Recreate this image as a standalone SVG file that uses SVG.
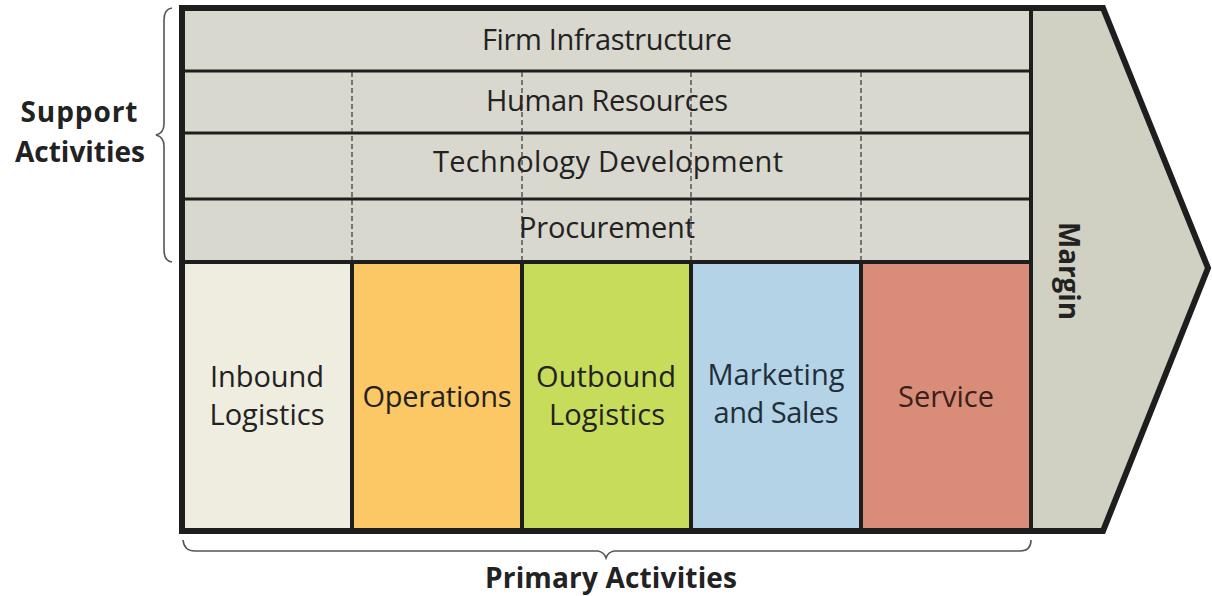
<svg xmlns="http://www.w3.org/2000/svg" width="1212" height="596" viewBox="0 0 1212 596">
<style>
.lbl{font-family:"Open Sans","Liberation Sans",sans-serif;font-size:29px;fill:#222;text-anchor:middle}
.bold{font-family:"Open Sans","Liberation Sans",sans-serif;font-size:28px;font-weight:bold;fill:#222;text-anchor:middle}
.row{fill:#d9d8cf}
.hl{stroke:#1e1e1e;stroke-width:3;fill:none}
.vl{stroke:#1e1e1e;stroke-width:4;fill:none}
.dash{stroke:#333;stroke-width:1.2;stroke-dasharray:5 3;fill:none}
.brace{stroke:#555;stroke-width:1.6;fill:none}
</style>
<rect width="1212" height="596" fill="#ffffff"/>
<g id="margin">
<polygon points="182,8 1103,8 1208,268 1103,531 182,531" fill="#d0d0c3"/>
<text class="bold" transform="translate(1059,271) rotate(90)" textLength="98" lengthAdjust="spacingAndGlyphs">Margin</text>
</g>
<g id="firm-infrastructure">
<rect class="row" x="182" y="8" width="849" height="63"/>
<text class="lbl" x="607" y="50" textLength="250">Firm Infrastructure</text>
</g>
<g id="human-resources">
<rect class="row" x="182" y="71" width="849" height="62"/>
<text class="lbl" x="607" y="111" textLength="242">Human Resources</text>
</g>
<g id="technology-development">
<rect class="row" x="182" y="133" width="849" height="66"/>
<text class="lbl" x="608" y="172" textLength="350">Technology Development</text>
</g>
<g id="procurement">
<rect class="row" x="182" y="199" width="849" height="63"/>
<text class="lbl" x="607" y="238" textLength="176">Procurement</text>
</g>
<g id="inbound-logistics">
<rect x="182" y="262" width="170" height="269" fill="#efece0"/>
<text class="lbl" x="267" y="387" textLength="114">Inbound</text>
<text class="lbl" x="267" y="425" textLength="115">Logistics</text>
</g>
<g id="operations">
<rect x="352" y="262" width="170" height="269" fill="#fcc865"/>
<text class="lbl" x="437" y="407" textLength="149">Operations</text>
</g>
<g id="outbound-logistics">
<rect x="522" y="262" width="169" height="269" fill="#c8dc5c"/>
<text class="lbl" x="606" y="387" textLength="140">Outbound</text>
<text class="lbl" x="607" y="425" textLength="116">Logistics</text>
</g>
<g id="marketing-and-sales">
<rect x="691" y="262" width="170" height="269" fill="#b5d3e6"/>
<text class="lbl" x="776" y="385" textLength="137" style="fill:#1f2f3a">Marketing</text>
<text class="lbl" x="776" y="423" textLength="125" style="fill:#1f2f3a">and Sales</text>
</g>
<g id="service">
<rect x="861" y="262" width="170" height="269" fill="#d98c78"/>
<text class="lbl" x="946" y="407" textLength="96" style="fill:#3a1f1a">Service</text>
</g>
<g id="grid-lines">
<line class="hl" x1="182" y1="71" x2="1031" y2="71"/>
<line class="hl" x1="182" y1="133" x2="1031" y2="133"/>
<line class="hl" x1="182" y1="199" x2="1031" y2="199"/>
<line class="vl" x1="182" y1="262" x2="1031" y2="262"/>
<line class="dash" x1="352" y1="72" x2="352" y2="261"/>
<line class="dash" x1="522" y1="72" x2="522" y2="261"/>
<line class="dash" x1="691" y1="72" x2="691" y2="261"/>
<line class="dash" x1="861" y1="72" x2="861" y2="261"/>
<line class="vl" x1="352" y1="262" x2="352" y2="531"/>
<line class="vl" x1="522" y1="262" x2="522" y2="531"/>
<line class="vl" x1="691" y1="262" x2="691" y2="531"/>
<line class="vl" x1="861" y1="262" x2="861" y2="531"/>
<line class="vl" x1="1031" y1="8" x2="1031" y2="531"/>
<polygon points="182,8 1103,8 1208,268 1103,531 182,531" fill="none" stroke="#1e1e1e" stroke-width="6" stroke-linejoin="miter"/>
</g>
<g id="support-activities">
<path class="brace" d="M172,8 Q164,9 164,20 L164,124 Q164,133 156,135 Q164,137 164,146 L164,250 Q164,261 172,262"/>
<text class="bold" x="79" y="122" textLength="117">Support</text>
<text class="bold" x="80" y="162" textLength="130">Activities</text>
</g>
<g id="primary-activities">
<path class="brace" d="M183,540 Q184,551 195,551 L598,551 Q604,552 606,558 Q608,552 614,551 L1020,551 Q1031,551 1031,540"/>
<text class="bold" x="611" y="588" textLength="252">Primary Activities</text>
</g>
</svg>
